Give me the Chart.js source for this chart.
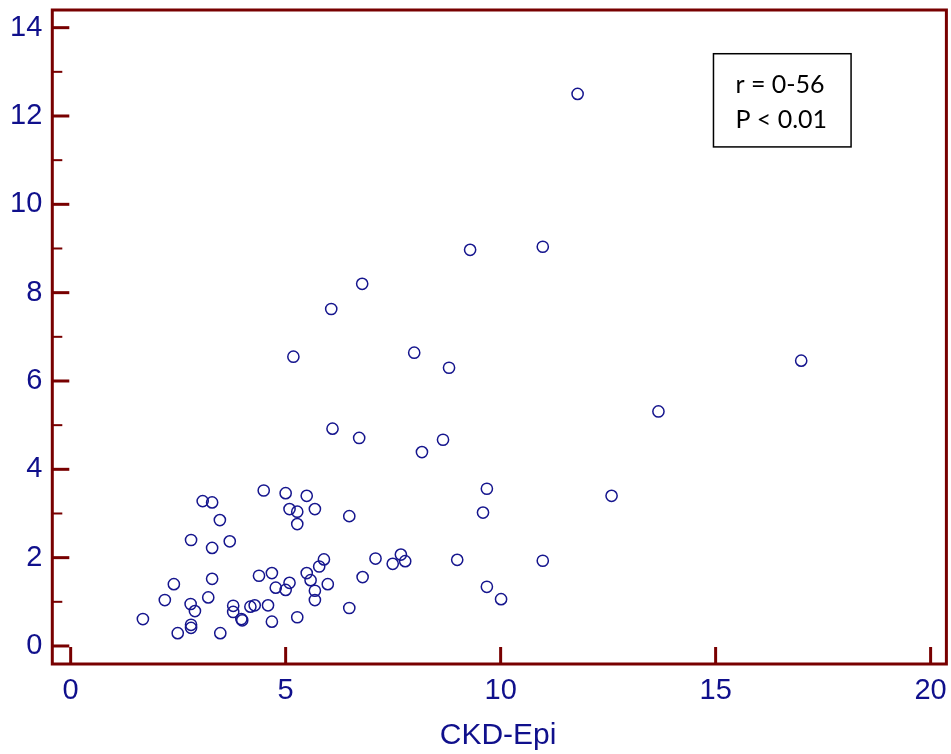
<!DOCTYPE HTML>
<html>

<head>
    <meta charset="UTF-8">
    <title>CKD-Epi scatter</title>
    <script src="https://cdn.jsdelivr.net/npm/chart.js"></script>
    <style>
        body { margin: 0; background: #fff; }
        #wrap { width: 951px; height: 754px; }
    </style>
</head>

<body>
    <div id="wrap"><canvas id="myChart"></canvas></div>
    <script>
        // data
        const ckdEpi = [1.68, 2.19, 2.40, 2.49, 2.80, 2.79, 2.89, 2.80, 2.80, 3.07, 3.29, 3.47, 3.29, 3.70, 3.29,
            3.20, 3.48, 3.78, 3.78, 3.97, 3.99, 4.18, 4.28, 4.38, 4.49, 4.59, 4.68, 4.68, 4.77, 5.00,
            5.00, 5.09, 5.09, 5.27, 5.27, 5.27, 5.49, 5.68, 5.49, 5.58, 5.68, 5.68, 5.89, 5.78, 5.98,
            6.48, 6.48, 6.79, 7.09, 7.49, 7.68, 7.78, 5.18, 6.06, 6.09, 6.71, 6.78, 7.99, 8.17, 8.66,
            8.80, 8.99, 9.29, 9.59, 9.68, 9.68, 10.01, 10.98, 10.98, 11.79, 12.58, 13.67, 16.99];
        const yValues = [0.61, 1.04, 1.40, 0.29, 2.40, 0.95, 0.79, 0.48, 0.41, 3.28, 3.25, 2.85, 2.22, 2.37, 1.52,
            1.10, 0.29, 0.91, 0.77, 0.61, 0.58, 0.89, 0.92, 1.59, 3.52, 0.92, 1.65, 0.55, 1.32, 3.46,
            1.27, 1.43, 3.10, 3.04, 2.76, 0.65, 3.40, 3.10, 1.65, 1.49, 1.25, 1.04, 1.96, 1.80, 1.40,
            2.94, 0.86, 1.56, 1.98, 1.86, 2.07, 1.92, 6.55, 7.63, 4.92, 4.71, 8.20, 6.64, 4.39, 4.67,
            6.30, 1.95, 8.97, 3.02, 3.56, 1.34, 1.06, 9.04, 1.93, 12.50, 3.40, 5.31, 6.46];
        const xTicks = [0, 5, 10, 15, 20];
        const yTicks = [0, 2, 4, 6, 8, 10, 12, 14];
        const yMinorTicks = [1, 3, 5, 7, 9, 11, 13];
        const statLines = ['r = 0-56', 'P < 0.01'];

        const axisColor = '#780000';
        const labelColor = '#10108c';
        const frameRight = 20.367; // right edge of the box, in x units

        // frame + inward tick marks, drawn through the scales
        const framePlugin = {
            id: 'frame',
            afterDraw(chart) {
                const { ctx, chartArea: a, scales: { x, y } } = chart;
                const right = x.getPixelForValue(frameRight);
                ctx.save();
                ctx.strokeStyle = axisColor;
                ctx.lineCap = 'butt';
                ctx.lineWidth = 3;
                ctx.strokeRect(a.left, a.top, right - a.left, a.bottom - a.top);
                xTicks.forEach(v => {
                    const px = x.getPixelForValue(v);
                    ctx.beginPath(); ctx.moveTo(px, a.bottom); ctx.lineTo(px, a.bottom - 17); ctx.stroke();
                });
                yTicks.forEach(v => {
                    const py = y.getPixelForValue(v);
                    ctx.beginPath(); ctx.moveTo(a.left, py); ctx.lineTo(a.left + 17, py); ctx.stroke();
                });
                ctx.lineWidth = 2;
                yMinorTicks.forEach(v => {
                    const py = y.getPixelForValue(v);
                    ctx.beginPath(); ctx.moveTo(a.left, py); ctx.lineTo(a.left + 10, py); ctx.stroke();
                });

                // stats box
                const bx0 = x.getPixelForValue(14.95), bx1 = x.getPixelForValue(18.15);
                const by0 = y.getPixelForValue(13.41), by1 = y.getPixelForValue(11.30);
                ctx.strokeStyle = '#000';
                ctx.lineWidth = 1.5;
                ctx.strokeRect(bx0, by0, bx1 - bx0, by1 - by0);
                ctx.fillStyle = '#000';
                ctx.font = '25px Lato';
                ctx.textBaseline = 'middle';
                ctx.textAlign = 'left';
                const tx = x.getPixelForValue(15.46);
                ctx.fillText(statLines[0], tx, y.getPixelForValue(12.70));
                ctx.fillText(statLines[1], tx, y.getPixelForValue(11.92));
                ctx.restore();
            }
        };

        const ctx = document.getElementById('myChart').getContext('2d');
        const chart = new Chart(ctx, {
            type: 'scatter',
            data: {
                datasets: [{
                    data: ckdEpi.map((v, i) => ({ x: v, y: yValues[i] })),
                    pointStyle: 'circle',
                    pointRadius: 5.6,
                    borderWidth: 1.5,
                    borderColor: '#16168e',
                    backgroundColor: 'rgba(0,0,0,0)'
                }]
            },
            options: {
                responsive: true,
                maintainAspectRatio: false,
                animation: false,
                layout: { padding: { top: 10, right: 0, left: 0, bottom: 0 } },
                plugins: { legend: { display: false }, tooltip: { enabled: false } },
                scales: {
                    x: {
                        type: 'linear',
                        min: -0.427,
                        max: 20.309,
                        grid: { display: false, drawTicks: false },
                        border: { display: false },
                        afterBuildTicks: s => { s.ticks = xTicks.map(v => ({ value: v })); },
                        afterFit: s => { s.height = 90; s.paddingLeft = 0; s.paddingRight = 0; },
                        ticks: {
                            autoSkip: false,
                            padding: 10,
                            color: labelColor,
                            font: { family: 'Liberation Sans', size: 29 }
                        },
                        title: {
                            display: true,
                            text: 'CKD-Epi',
                            color: labelColor,
                            padding: { top: 0, bottom: 0 },
                            font: { family: 'Liberation Sans', size: 30 }
                        }
                    },
                    y: {
                        type: 'linear',
                        min: -0.408,
                        max: 14.40,
                        grid: { display: false, drawTicks: false },
                        border: { display: false },
                        afterBuildTicks: s => { s.ticks = yTicks.map(v => ({ value: v })); },
                        afterFit: s => { s.width = 52.3; s.paddingTop = 0; s.paddingBottom = 0; },
                        ticks: {
                            autoSkip: false,
                            padding: 10,
                            color: labelColor,
                            font: { family: 'Liberation Sans', size: 29 }
                        }
                    }
                }
            },
            plugins: [framePlugin]
        });
    </script>
</body>

</html>
